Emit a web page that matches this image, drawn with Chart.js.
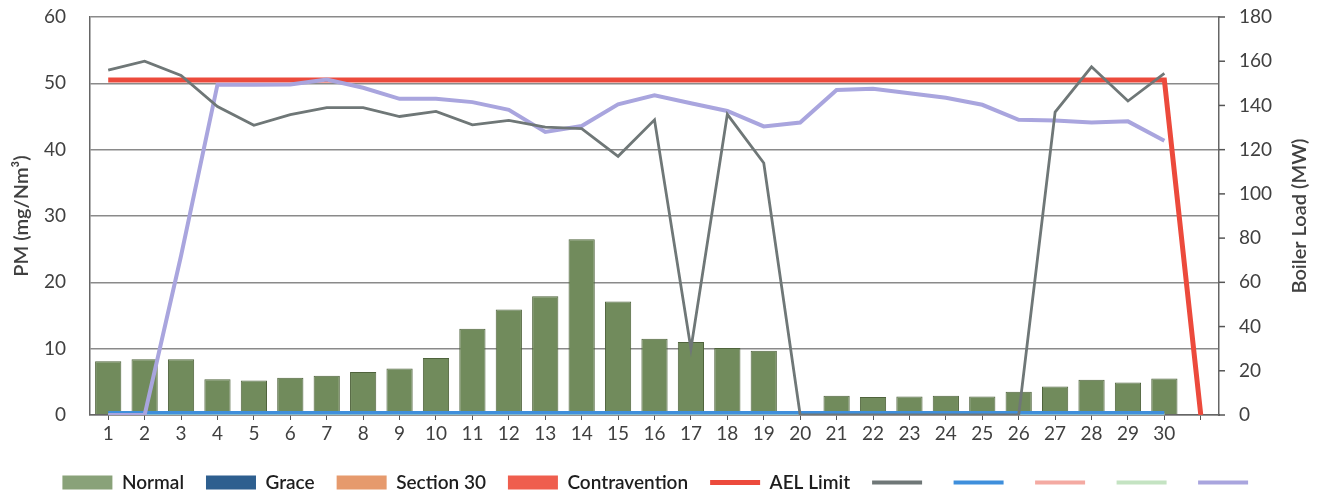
<!DOCTYPE html>
<html><head><meta charset="utf-8">
<script src="https://cdn.jsdelivr.net/npm/chart.js@4.4.1/dist/chart.umd.min.js"></script>
<style>html,body{margin:0;padding:0;background:#fff}canvas{display:block}</style>
</head><body>
<canvas id="c" width="1320" height="497"></canvas>
<script>
// day of month, last slot is empty (AEL line drops to zero there)
const days=['1','2','3','4','5','6','7','8','9','10','11','12','13','14','15','16','17','18','19','20','21','22','23','24','25','26','27','28','29','30',''];
// PM, mg/Nm3 (left axis)
const normal=[8.1,8.4,8.4,5.4,5.2,5.6,5.9,6.5,7.0,8.6,13.0,15.9,17.9,26.5,17.1,11.5,11.0,10.1,9.7,0,2.9,2.7,2.8,2.9,2.8,3.5,4.3,5.3,4.9,5.5,null];
const grace=[0,0,0,0,0,0,0,0,0,0,0,0,0,0,0,0,0,0,0,0,0,0,0,0,0,0,0,0,0,0,null];
const section30=[0,0,0,0,0,0,0,0,0,0,0,0,0,0,0,0,0,0,0,0,0,0,0,0,0,0,0,0,0,0,null];
const contravention=[0,0,0,0,0,0,0,0,0,0,0,0,0,0,0,0,0,0,0,0,0,0,0,0,0,0,0,0,0,0,null];
const aelLimit=[50.5,50.5,50.5,50.5,50.5,50.5,50.5,50.5,50.5,50.5,50.5,50.5,50.5,50.5,50.5,50.5,50.5,50.5,50.5,50.5,50.5,50.5,50.5,50.5,50.5,50.5,50.5,50.5,50.5,50.5,0];
const blueLine=[0.35,0.35,0.35,0.35,0.35,0.35,0.35,0.35,0.35,0.35,0.35,0.35,0.35,0.35,0.35,0.35,0.35,0.35,0.35,0.35,0.35,0.35,0.35,0.35,0.35,0.35,0.35,0.35,0.35,0.35,null];
const pinkLine=[0,0,0,0,0,0,0,0,0,0,0,0,0,0,0,0,0,0,0,0,0,0,0,0,0,0,0,0,0,0,null];
const greenLine=[0,0,0,0,0,0,0,0,0,0,0,0,0,0,0,0,0,0,0,0,0,0,0,0,0,0,0,0,0,0,null];
// boiler load, MW (right axis)
const grayLoad=[156,160,153.6,139.5,131,135.8,139,139,135,137.3,131.2,133.2,130.2,129.5,117,133.5,30,136,114,0,0,0,0,0,0,0,137,157.5,142,154.5,null];
const purpleLoad=[0,0,72,149.4,149.4,149.5,151.7,148,143,143,141.5,138,128,130.7,140.5,144.6,141,137.5,130.5,132.3,147,147.5,145.5,143.5,140.3,133.5,133.2,132.3,132.8,124,null];

const FONT='Lato, "Open Sans", sans-serif';
const TXT='#404040';
const RIGHT_TITLE='Boiler Load (MW)';

function bar(label,data,fill,legendFill,order){
  return {type:'bar',label,data,backgroundColor:fill,borderColor:'#4f633c',borderWidth:label==='Normal'?1:0,
    stack:'pm',yAxisID:'y',barPercentage:0.72,categoryPercentage:1,order,pointStyle:'rect',legendFill};
}
function line(label,data,color,width,axis,order){
  return {type:'line',label,data,borderColor:color,backgroundColor:color,borderWidth:width,pointRadius:0,
    tension:0,yAxisID:axis,order,pointStyle:'line',spanGaps:false};
}

// right axis: short tick marks + title reading bottom-to-top
const rightAxisExtras={id:'rightAxisExtras',afterDraw(chart){
  const {ctx,chartArea}=chart;
  const s=chart.scales.y1;
  ctx.save();
  ctx.strokeStyle='#555';ctx.lineWidth=1.5;
  s.ticks.forEach(t=>{
    const y=s.getPixelForValue(t.value);
    ctx.beginPath();ctx.moveTo(chartArea.right,y);ctx.lineTo(chartArea.right+6,y);ctx.stroke();
  });
  ctx.translate(1300,(chartArea.top+chartArea.bottom)/2);
  ctx.rotate(-Math.PI/2);
  ctx.fillStyle=TXT;ctx.font='600 20px '+FONT;
  ctx.textAlign='center';ctx.textBaseline='middle';
  ctx.fillText(RIGHT_TITLE,0,0);
  ctx.restore();
}};

new Chart(document.getElementById('c'),{
  data:{labels:days,datasets:[
    bar('Normal',normal,'#718b5c','#89a279',10),
    bar('Grace',grace,'#2e5f8f','#2e5f8f',11),
    bar('Section 30',section30,'#e69a6d','#e69a6d',12),
    bar('Contravention',contravention,'#ef5e4e','#ef5e4e',13),
    line('AEL Limit',aelLimit,'#ec4a3c',5,'y',3),
    line('',grayLoad,'#6f7777',2.8,'y1',1),
    line('',blueLine,'#3f8fdc',3.5,'y',4),
    line('',pinkLine,'#f4aaa2',3,'y',6),
    line('',greenLine,'#c4e3c2',3.5,'y',5),
    line('',purpleLoad,'#a9a5de',4,'y1',2)
  ]},
  plugins:[rightAxisExtras],
  options:{
    responsive:false,animation:false,devicePixelRatio:1,
    layout:{padding:{top:17,left:0,right:0,bottom:0}},
    plugins:{
      tooltip:{enabled:false},
      legend:{position:'bottom',maxHeight:46,
        labels:{usePointStyle:true,pointStyleWidth:50,boxHeight:14,padding:22,color:'#1e1e1e',
          font:{family:FONT,size:19,weight:'600'},
          sort:(a,b)=>a.datasetIndex-b.datasetIndex,
          generateLabels(chart){
            return chart.data.datasets.map((d,i)=>({
              text:d.label,datasetIndex:i,
              fillStyle:d.legendFill||d.borderColor,
              strokeStyle:d.type==='bar'?(d.legendFill):d.borderColor,
              lineWidth:d.type==='bar'?0:Math.max(d.borderWidth,4),
              pointStyle:d.pointStyle,hidden:false,fontColor:'#1e1e1e'
            }));
          }}}
    },
    scales:{
      x:{offset:true,
        grid:{display:true,drawOnChartArea:false,offset:false,tickLength:5,color:'#555'},
        border:{color:'#666',width:1.5},
        ticks:{color:TXT,font:{family:FONT,size:19},padding:2,maxRotation:0,autoSkip:false},
        afterFit(s){s.height=36;}},
      y:{position:'left',min:0,max:60,
        ticks:{stepSize:10,color:TXT,font:{family:FONT,size:19},padding:4},
        grid:{color:'#8a8a8a',lineWidth:1.5,drawTicks:true,tickLength:20,tickColor:'rgba(0,0,0,0)'},
        border:{color:'#666',width:1.5},
        title:{display:true,text:'PM (mg/Nm\u00b3)',color:TXT,font:{family:FONT,size:20,weight:'600'},padding:{top:10,bottom:0}},
        afterFit(s){s.width=90;}},
      y1:{position:'right',min:0,max:180,
        ticks:{stepSize:20,color:TXT,font:{family:FONT,size:19},padding:4},
        grid:{drawOnChartArea:false,tickLength:16,tickColor:'rgba(0,0,0,0)'},
        border:{color:'#666',width:1.5},
        afterFit(s){s.width=101;}}
    }
  }
});
</script>
</body></html>
